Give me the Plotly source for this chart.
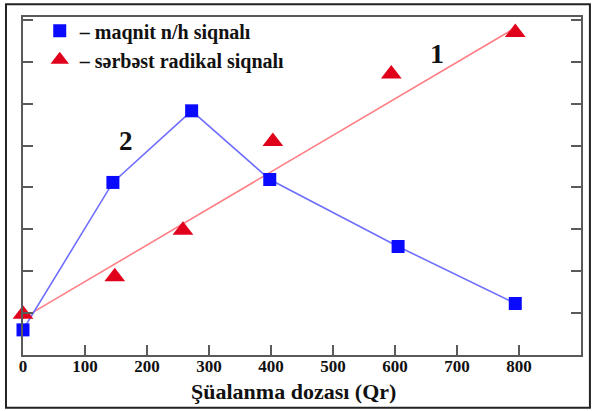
import plotly.graph_objects as go

# Data
dose_magnetic = [0, 145, 272, 398, 605, 794]
signal_magnetic = [0.6, 4.12, 5.83, 4.19, 2.59, 1.23]

dose_radical = [0, 148, 258, 403, 594, 794]
signal_radical = [0.97, 1.87, 2.98, 5.1, 6.71, 7.7]

fit_dose = [0, 794]
fit_signal = [0.88, 7.81]

x_ticks = [0, 100, 200, 300, 400, 500, 600, 700, 800]
y_ticks = [0, 1, 2, 3, 4, 5, 6, 7, 8]

x_title = "Şüalanma dozası (Qr)"

serif = "Liberation Serif"
axis_col = "#5a5a5a"

fig = go.Figure()

fig.add_trace(go.Scatter(
    x=fit_dose, y=fit_signal, mode="lines",
    line=dict(color="#ff7f86", width=1.6), showlegend=False, hoverinfo="skip"))
fig.add_trace(go.Scatter(
    x=dose_magnetic, y=signal_magnetic, mode="lines",
    line=dict(color="#6f6fff", width=1.6), showlegend=False, hoverinfo="skip"))

fig.add_trace(go.Scatter(
    x=dose_magnetic, y=signal_magnetic, mode="markers",
    marker=dict(symbol="square", size=13, color="#0a0aff"),
    name="\u2013 maqnit n/h siqnalı", legendgroup="a", cliponaxis=False))
fig.add_trace(go.Scatter(
    x=dose_radical, y=signal_radical, mode="markers",
    marker=dict(symbol="triangle-up", size=18, color="#e0001b"),
    name="\u2013 sərbəst radikal siqnalı", legendgroup="b", cliponaxis=False))

fig.add_annotation(x=667, y=7.21, xref="x", yref="y", text="1",
                   showarrow=False,
                   font=dict(family=serif, size=28, color="#111", weight="bold"))
fig.add_annotation(x=166, y=5.12, xref="x", yref="y", text="2",
                   showarrow=False,
                   font=dict(family=serif, size=27, color="#111", weight="bold"))

# x axis title
fig.add_annotation(x=0.484, y=-0.109, xref="paper", yref="paper", text=x_title,
                   showarrow=False, xanchor="center", yanchor="middle",
                   font=dict(family=serif, size=22, color="#111", weight="bold"))

# outer frame around the whole figure
fig.add_shape(type="rect", xref="paper", yref="paper",
              x0=-0.0305, x1=1.016, y0=-0.156, y1=1.038,
              line=dict(color="#222", width=2))

fig.update_layout(
    width=594, height=411,
    margin=dict(l=23, r=13, t=16, b=56),
    paper_bgcolor="white", plot_bgcolor="white",
    font=dict(family=serif, color="#111"),
    legend=dict(x=0.03, y=1.014, xanchor="left", yanchor="top",
                bgcolor="rgba(0,0,0,0)",
                font=dict(family=serif, size=20, color="#111", weight="bold"),
                tracegroupgap=0, itemsizing="trace"),
    xaxis=dict(range=[0, 900], tickvals=x_ticks, ticks="inside", ticklen=10,
               tickwidth=2, tickcolor=axis_col, showline=True, linecolor=axis_col,
               linewidth=2, mirror=True, showgrid=False, zeroline=False,
               ticklabelstandoff=-5,
               tickfont=dict(family=serif, size=17, color="#111", weight="bold")),
    yaxis=dict(range=[0, 8.07], tickvals=y_ticks, showticklabels=False,
               ticks="inside", ticklen=10, tickwidth=2, tickcolor=axis_col,
               showline=True, linecolor=axis_col, linewidth=2, mirror="ticks",
               showgrid=False, zeroline=False),
)

fig.write_html("out.html", config={"displayModeBar": False},
               post_script="document.body.style.margin='0';document.body.style.padding='0';")
